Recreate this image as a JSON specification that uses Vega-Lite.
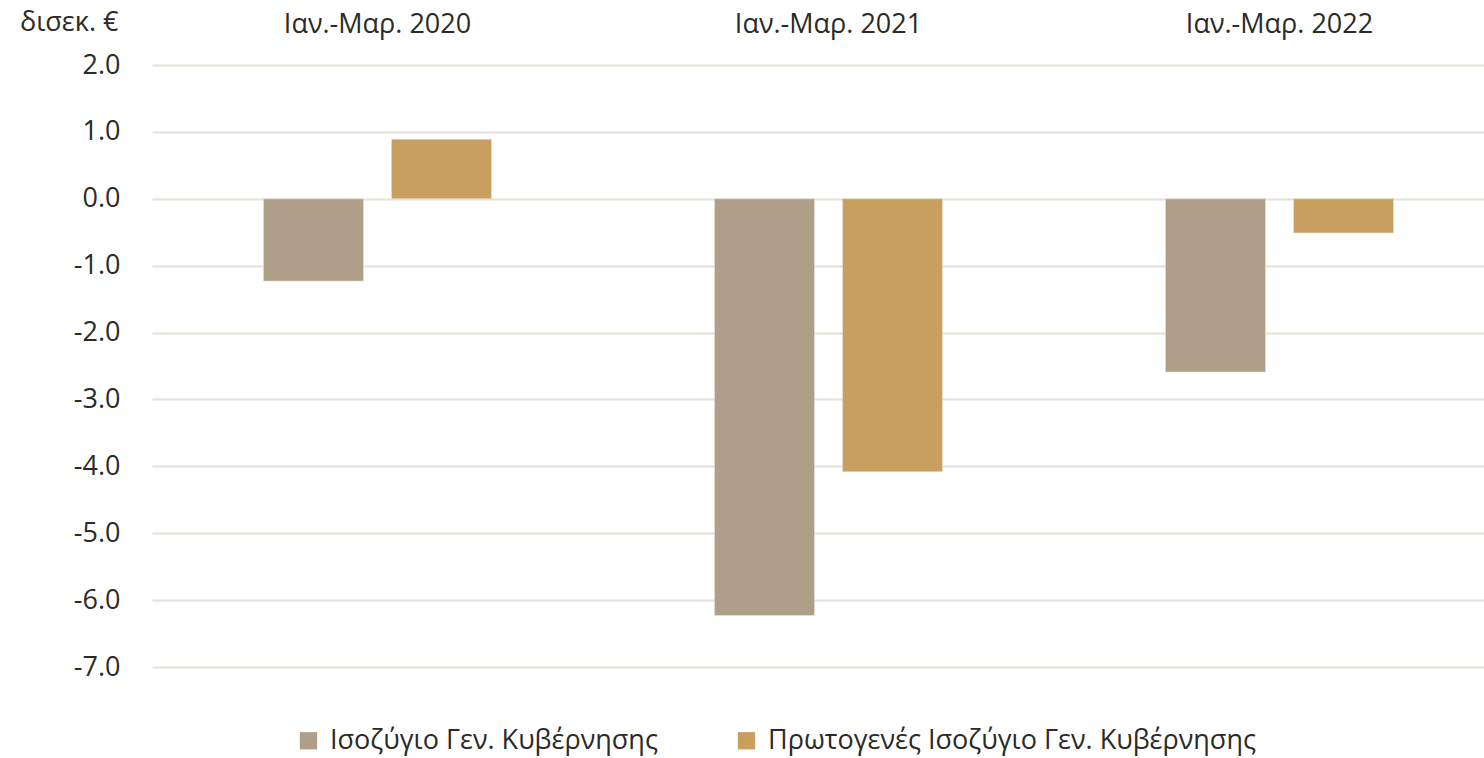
{
  "$schema": "https://vega.github.io/schema/vega-lite/v6.json",
  "autosize": "none",
  "width": 1353,
  "height": 602,
  "padding": {"left": 152, "top": 65, "right": 0, "bottom": 91},
  "background": "white",
  "config": {
    "view": {"stroke": null},
    "font": "Open Sans",
    "axis": {"labelFont": "Open Sans", "titleFont": "Open Sans", "labelColor": "#2b2a25", "titleColor": "#2b2a25"},
    "legend": {"labelFont": "Open Sans", "labelColor": "#2b2a25"}
  },
  "data": {
    "values": [
      {"period": "Ιαν.-Μαρ. 2020", "series": "Ισοζύγιο Γεν. Κυβέρνησης", "value": -1.23},
      {"period": "Ιαν.-Μαρ. 2020", "series": "Πρωτογενές Ισοζύγιο Γεν. Κυβέρνησης", "value": 0.89},
      {"period": "Ιαν.-Μαρ. 2021", "series": "Ισοζύγιο Γεν. Κυβέρνησης", "value": -6.23},
      {"period": "Ιαν.-Μαρ. 2021", "series": "Πρωτογενές Ισοζύγιο Γεν. Κυβέρνησης", "value": -4.08},
      {"period": "Ιαν.-Μαρ. 2022", "series": "Ισοζύγιο Γεν. Κυβέρνησης", "value": -2.59},
      {"period": "Ιαν.-Μαρ. 2022", "series": "Πρωτογενές Ισοζύγιο Γεν. Κυβέρνησης", "value": -0.51}
    ]
  },
  "mark": {"type": "bar", "strokeWidth": 1, "stroke": "#e8e2d6", "strokeOpacity": 0.6},
  "encoding": {
    "x": {
      "field": "period",
      "type": "nominal",
      "sort": null,
      "scale": {"paddingInner": 0, "paddingOuter": 0},
      "axis": {
        "orient": "top",
        "title": null,
        "domain": false,
        "ticks": false,
        "labelAngle": 0,
        "labelFontSize": 27,
        "labelLimit": 600,
        "labelPadding": 27
      }
    },
    "xOffset": {
      "field": "series",
      "type": "nominal",
      "sort": null,
      "scale": {"paddingInner": 0.21875, "paddingOuter": 0.871}
    },
    "y": {
      "field": "value",
      "type": "quantitative",
      "scale": {"domain": [-7, 2], "nice": false, "zero": false},
      "axis": {
        "values": [2, 1, 0, -1, -2, -3, -4, -5, -6, -7],
        "labelExpr": "replace(format(datum.value, '.1f'), '−', '-')",
        "domain": false,
        "ticks": false,
        "labelFontSize": 27,
        "labelPadding": 32,
        "gridColor": "#e6e1d8",
        "gridWidth": 2,
        "title": "δισεκ. €",
        "titleFontSize": 27,
        "titleFontWeight": "normal",
        "titleAngle": 0,
        "titleAlign": "right",
        "titleBaseline": "middle",
        "titleX": -34,
        "titleY": -43
      }
    },
    "color": {
      "field": "series",
      "type": "nominal",
      "sort": null,
      "scale": {"range": ["#af9f89", "#c89f5e"]},
      "legend": {
        "title": null,
        "orient": "none",
        "direction": "horizontal",
        "legendX": 143,
        "legendY": 662,
        "symbolType": "square",
        "symbolSize": 300,
        "symbolStrokeWidth": 0,
        "labelFontSize": 27,
        "labelLimit": 800,
        "labelOffset": 8,
        "columnPadding": 75
      }
    }
  }
}
